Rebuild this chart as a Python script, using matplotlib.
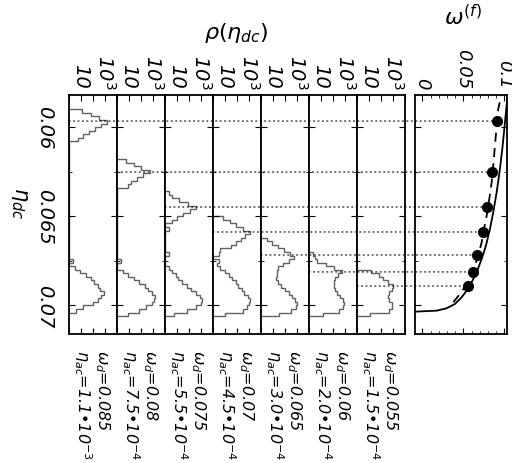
import numpy as np
import matplotlib
matplotlib.use("Agg")
import matplotlib.pyplot as plt
from matplotlib.patches import ConnectionPatch
from matplotlib.ticker import LogLocator, MultipleLocator, NullFormatter

W, H = 512, 464

# one histogram panel per driving frequency (left to right)
omega_d = [0.085, 0.08, 0.075, 0.07, 0.065, 0.06, 0.055]
eta_ac_mant = ['1.1', '7.5', '5.5', '4.5', '3.0', '2.0', '1.5']
eta_ac_exp = [-3, -4, -4, -4, -4, -4, -4]

# eta_dc histogram grid
eta_min = 0.0582
eta_max = 0.0716
bin_width = 0.0002
eta_ticks = [0.06, 0.065, 0.07]
eta_ticklabels = ['0.06', '0.065', '0.07']

# first occupied bin of each histogram, then the counts
hist_first_bin = [4, 18, 27, 34, 40, 44, 49]
hist_counts = [
    [13, 63, 316, 1585, 501, 158, 50, 16, 6] + [1] * 33
    + [2, 1, 3, 8, 25, 63, 126, 251, 398, 794, 501, 251, 100, 16, 4],
    [6, 25, 100, 562, 158, 50, 16, 8] + [1] * 20
    + [2, 1, 1, 3, 8, 25, 63, 200, 398, 794, 1413, 1259, 794, 251, 63, 9],
    [2, 4, 16, 79, 363, 126, 32, 10, 4, 1, 2, 1, 1, 1, 1, 1, 1, 2, 1, 1,
     1, 2, 4, 8, 13, 25, 63, 158, 398, 794, 1259, 1000, 398, 63, 6],
    [7, 25, 79, 316, 1202, 501, 200, 79, 32, 4, 3, 1, 3, 2, 4, 10, 20, 40,
     79, 126, 251, 398, 794, 1202, 1000, 631, 316, 10],
    [3, 8, 25, 79, 251, 562, 200, 63, 25, 20, 20, 18, 25, 50, 100, 200, 398,
     708, 1000, 794, 316, 32],
    [2, 3, 5, 25, 126, 603, 251, 158, 126, 126, 158, 200, 398, 708, 832,
     631, 316, 16],
    [14, 63, 158, 398, 1000, 794, 501, 355, 501, 891, 794, 501, 13],
]

# peak positions and measured frequency (right panel dots)
peak_eta = [0.05966, 0.06252, 0.06448, 0.06588, 0.06717, 0.06812, 0.06891]
omega_f = [0.0905, 0.0844, 0.0783, 0.0734, 0.0668, 0.0612, 0.0551]

# right panel curves
solid_omega = [-0.0091, 0.0173, 0.0295, 0.0396, 0.0478, 0.0539, 0.0600, 0.0661,
               0.0722, 0.0774, 0.0823, 0.0863, 0.0905, 0.0945, 0.0978, 0.1006, 0.1034]
solid_eta = [0.070347, 0.070291, 0.070157, 0.069916, 0.069540, 0.069170, 0.068699,
             0.068138, 0.067393, 0.066647, 0.065711, 0.064775, 0.063654, 0.062348,
             0.061042, 0.059730, 0.058424]
dashed_omega = [0.0376, 0.0457, 0.0530, 0.0600, 0.0640, 0.0680, 0.0722, 0.0750,
                0.0783, 0.0815, 0.0844, 0.0863, 0.0884, 0.0905, 0.0924, 0.0966]
dashed_eta = [0.069820, 0.069355, 0.068889, 0.068329, 0.067768, 0.067208, 0.066457,
              0.065711, 0.064966, 0.064030, 0.063094, 0.062163, 0.061042, 0.059921,
              0.058985, 0.058144]
omega_ticks = [0, 0.05, 0.1]
omega_ticklabels = ['0', '0.05', '0.1']


def px_box(x0, y0, x1, y1):
    return [x0 / W, 1 - y1 / H, (x1 - x0) / W, (y1 - y0) / H]


def italic_labels(labels):
    for t in labels:
        t.set_fontstyle('italic')


def eta_axis(ax, show_labels):
    ax.set_ylim(eta_max, eta_min)
    ax.yaxis.set_ticks_position('both')
    ax.set_yticks(eta_ticks)
    ax.yaxis.set_minor_locator(MultipleLocator(0.0025))
    ax.tick_params(axis='y', which='major', direction='in', length=4, width=0.8)
    ax.tick_params(axis='y', which='minor', direction='in', length=2, width=0.6)
    if show_labels:
        ax.set_yticklabels(eta_ticklabels)
        ax.tick_params(axis='y', labelsize=14, labelrotation=-90, pad=11)
        for t in ax.get_yticklabels():
            t.set_va('center')
        italic_labels(ax.get_yticklabels())
    else:
        ax.tick_params(axis='y', labelleft=False)
    for sp in ax.spines.values():
        sp.set_linewidth(1.3)


fig = plt.figure(figsize=(W / 100, H / 100), dpi=100)

hist_axes = []
for i in range(len(omega_d)):
    x0 = 69 + 48 * i
    ax = fig.add_axes(px_box(x0, 96, x0 + 48, 335))
    ax.set_xscale('log')
    ax.set_xlim(1, 1e4)
    k0 = hist_first_bin[i]
    edges = eta_min + bin_width * np.arange(k0, k0 + len(hist_counts[i]) + 1)
    ax.stairs(hist_counts[i], edges, orientation='horizontal', baseline=1,
              color='0.38', lw=1.0)
    ax.xaxis.set_ticks_position('both')
    ax.set_xticks([1, 10, 100, 1000, 1e4], ['', '10', '', r'10$^3$', ''])
    ax.xaxis.set_minor_locator(LogLocator(base=10, subs=np.arange(2, 10)))
    ax.xaxis.set_minor_formatter(NullFormatter())
    ax.tick_params(axis='x', which='major', direction='in', length=4, width=0.8,
                   labeltop=True, labelbottom=False, labelrotation=-90,
                   labelsize=14, pad=5)
    ax.tick_params(axis='x', which='minor', direction='in', length=2, width=0.6)
    italic_labels(ax.get_xticklabels())
    eta_axis(ax, i == 0)

    cx = x0 + 24
    fig.text((cx + 9) / W, 1 - 350 / H, r'$\omega_d$=' + str(omega_d[i]),
             rotation=-90, ha='center', va='top', fontsize=11.5, style='italic')
    fig.text((cx - 10) / W, 1 - 350 / H,
             r'$\eta_{ac}$=' + eta_ac_mant[i] + '\u2022' + '10$^{%d}$' % eta_ac_exp[i],
             rotation=-90, ha='center', va='top', fontsize=11.5, style='italic')
    hist_axes.append(ax)

# frequency panel
axw = fig.add_axes(px_box(415, 96, 507, 335))
axw.set_xlim(-0.0091, 0.1031)
axw.plot(solid_omega, solid_eta, color='k', lw=1.3)
axw.plot(dashed_omega, dashed_eta, color='k', lw=1.3, dashes=(5, 3.5))
axw.plot(omega_f, peak_eta, 'o', color='k', ms=7, zorder=5)
axw.xaxis.set_ticks_position('both')
axw.set_xticks(omega_ticks, omega_ticklabels)
axw.xaxis.set_minor_locator(MultipleLocator(0.01))
axw.tick_params(axis='x', which='major', direction='in', length=4, width=0.8,
                labeltop=True, labelbottom=False, labelrotation=-90,
                labelsize=13, pad=5)
axw.tick_params(axis='x', which='minor', direction='in', length=2, width=0.6)
italic_labels(axw.get_xticklabels())
eta_axis(axw, False)

# dotted guides from each histogram to its dot
for i, ax in enumerate(hist_axes):
    con = ConnectionPatch(xyA=(0, peak_eta[i]), coordsA=ax.get_yaxis_transform(),
                          xyB=(omega_f[i], peak_eta[i]), coordsB=axw.transData,
                          color='k', lw=0.8, linestyle=(0, (1, 3)))
    fig.add_artist(con)

fig.text(236 / W, 1 - 33 / H, r'$\rho(\eta_{dc})$', ha='center', va='center', fontsize=16)
fig.text(463 / W, 1 - 17 / H, r'$\omega^{(f)}$', ha='center', va='center', fontsize=16)
fig.text(19 / W, 1 - 203 / H, r'$\eta_{dc}$', rotation=-90, ha='center', va='center',
         fontsize=15)

fig.savefig('out.png', dpi=100)
